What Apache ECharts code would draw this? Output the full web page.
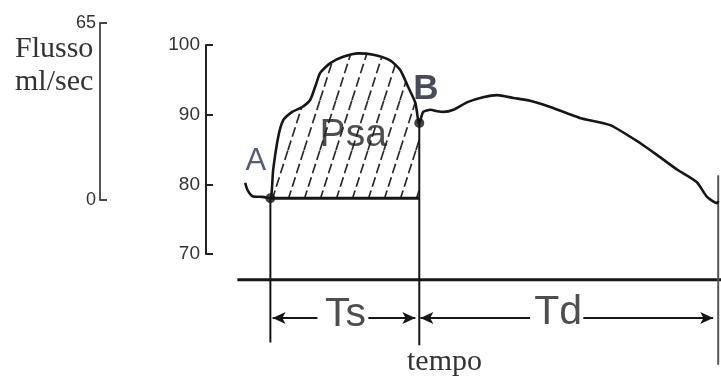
<!DOCTYPE html>
<html><head><meta charset="utf-8">
<script src="https://cdn.jsdelivr.net/npm/echarts@6/dist/echarts.min.js"></script>
<style>html,body{margin:0;padding:0;background:#fff}#c{width:721px;height:377px}</style>
</head><body><div id="c"></div>
<script>
// ---- data (time in ms from point A, pressure in mmHg) ----
const timeMs = [-45,-41,-32,-14,0,5,14,23,39,57,71,80,89,107,130,157,184,214,232,246,259,264,266,273,286,298,309,327,352,380,405,434,464,500,530,554,607,661,696,727,762,780,798,800];
const pressure = [80.2,79.2,78.3,78.2,78.0,82.1,86.8,89.2,90.4,91.1,92.1,94.0,96.0,97.4,98.3,98.8,98.6,97.8,96.4,94.0,91.7,89.2,88.8,90.4,90.7,90.5,90.4,90.7,91.8,92.5,92.8,92.4,92.0,91.1,90.2,89.5,88.5,85.9,83.9,82.1,80.3,78.2,77.3,77.6];
const pressureTicks = [70, 80, 90, 100];
const flowTicks = [0, 65];
const pointNames = ['A', 'B'];
const pointTimes = [0, 266];
const pointPressures = [78.0, 88.8];
const psaBase = 78.0;
const timeBaseP = 66.3;            // horizontal time line
const timeBaseRange = [-59, 805];
const cycleMarks = [[0, 78.0, 57.3], [266, 88.8, 56.9], [800, 81.3, 54.1]]; // [t, top, bottom]
const arrowP = 60.8;
const arrows = [[4, 84, 'start'], [175, 259, 'end'], [268, 464, 'start'], [559, 791, 'end']];
const textLabels = ['Psa', 'Ts', 'Td'];
const textTimes = [148, 134, 514];
const textPressures = [87.1, 61.3, 61.6];

// ---- hatch pattern ----
function makeHatch() {
  const c = document.createElement('canvas');
  c.width = 16; c.height = 50;
  const g = c.getContext('2d');
  g.strokeStyle = '#2a2a2a'; g.lineWidth = 1.7; g.setLineDash([10, 4]);
  for (const dx of [-16, 0, 16]) { g.beginPath(); g.moveTo(dx, 50); g.lineTo(dx + 16, 0); g.stroke(); }
  return c;
}

const curve = timeMs.map((t, i) => [t, pressure[i]]);
const psa = curve.filter(p => p[0] >= 0 && p[0] <= 266);
const ink = '#161616';
const serif = 'Liberation Serif';

const series = [];
series.push({ type: 'line', xAxisIndex: 0, yAxisIndex: 0, data: psa, symbol: 'none', clip: false,
  lineStyle: { width: 0 }, areaStyle: { origin: psaBase, opacity: 1, color: { image: makeHatch(), repeat: 'repeat' } }, z: 1 });
series.push({ type: 'line', data: curve, symbol: 'none', clip: false, smooth: 0.2,
  lineStyle: { color: ink, width: 2.6 }, z: 5 });
series.push({ type: 'line', data: [[0, psaBase], [266, psaBase]], symbol: 'none', clip: false,
  lineStyle: { color: ink, width: 3 }, z: 4 });
series.push({ type: 'line', data: [[timeBaseRange[0], timeBaseP], [timeBaseRange[1], timeBaseP]], symbol: 'none', clip: false,
  lineStyle: { color: ink, width: 3 } });
cycleMarks.forEach((m, i) => series.push({ type: 'line', data: [[m[0], m[1]], [m[0], m[2]]], symbol: 'none', clip: false,
  lineStyle: { color: i === 2 ? '#555' : ink, width: 2 } }));
arrows.forEach(a => {
  const head = { symbol: 'arrow', symbolSize: [9, 13], symbolRotate: a[2] === 'start' ? 90 : -90 };
  const d0 = Object.assign({ value: [a[0], arrowP] }, a[2] === 'start' ? head : { symbol: 'none' });
  const d1 = Object.assign({ value: [a[1], arrowP] }, a[2] === 'end' ? head : { symbol: 'none' });
  series.push({ type: 'line', data: [d0, d1], showSymbol: true, showAllSymbol: true, clip: false,
    itemStyle: { color: ink }, lineStyle: { color: ink, width: 2 } });
});
series.push({ type: 'scatter', clip: false, symbolSize: 10, itemStyle: { color: ink }, z: 6,
  data: pointNames.map((n, i) => ({ name: n, value: [pointTimes[i], pointPressures[i]] })),
  label: { show: true, formatter: '{b}', fontFamily: 'Liberation Sans', fontSize: 32, color: '#1d2340',
    position: 'top' } });
series[series.length - 1].data[0].label = { position: [-20, -47], fontSize: 31, color: '#2a3555' };
series[series.length - 1].data[1].label = { position: [-1, -46], fontSize: 35, fontWeight: 'bold', color: '#1a1f30' };
series.push({ type: 'scatter', clip: false, symbolSize: 0, z: 6,
  data: textLabels.map((n, i) => ({ name: n, value: [textTimes[i], textPressures[i]] })),
  label: { show: true, position: 'inside', formatter: '{b}', fontFamily: 'Liberation Sans', fontSize: 41, color: '#222' } });
series[series.length - 1].data[0].label = { fontSize: 39 };

const axisInk = { color: '#222', width: 2 };
const option = {
  animation: false,
  backgroundColor: '#fff',
  title: [
    { text: 'Flusso\nml/sec', left: 10, top: 28, textStyle: { fontFamily: serif, fontSize: 30, fontWeight: 'normal', lineHeight: 33, color: '#333' } },
    { text: 'tempo', left: 402, top: 342, textStyle: { fontFamily: serif, fontSize: 30, fontWeight: 'normal', color: '#333' } }
  ],
  grid: [
    { left: 206, top: 45, height: 209, width: 515 },
    { left: 100, top: 23, height: 177, width: 20 }
  ],
  xAxis: [
    { type: 'value', gridIndex: 0, min: -115, max: 805, show: false },
    { type: 'value', gridIndex: 1, min: 0, max: 1, show: false }
  ],
  yAxis: [
    { type: 'value', gridIndex: 0, min: pressureTicks[0], max: pressureTicks[pressureTicks.length - 1], interval: 10,
      axisLine: { show: true, onZero: false, lineStyle: axisInk }, axisTick: { show: true, inside: true, length: 7, lineStyle: axisInk },
      axisLabel: { fontSize: 19, color: '#333', margin: 6, fontFamily: 'Liberation Sans' }, splitLine: { show: false } },
    { type: 'value', gridIndex: 1, min: flowTicks[0], max: flowTicks[1], interval: 65,
      axisLine: { show: true, onZero: false, lineStyle: { color: '#555', width: 2 } }, axisTick: { show: true, inside: true, length: 7, lineStyle: { color: '#444', width: 2 } },
      axisLabel: { fontSize: 18, color: '#333', margin: 4, fontFamily: 'Liberation Sans', padding: [6, 0, 0, 0] }, splitLine: { show: false } }
  ],
  series: series
};
echarts.init(document.getElementById('c')).setOption(option);
</script>
</body></html>
